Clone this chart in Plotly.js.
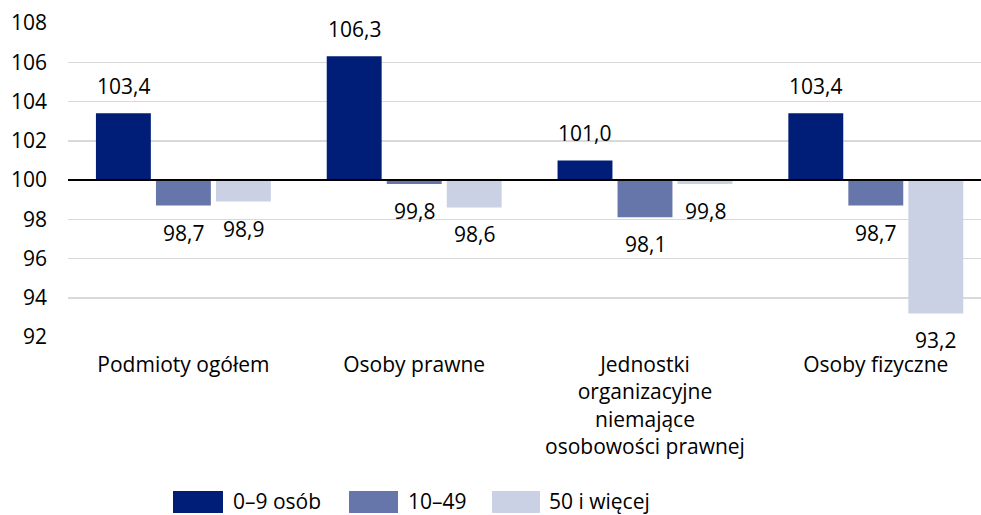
<!DOCTYPE html>
<html><head><meta charset="utf-8">
<script src="https://cdn.plot.ly/plotly-3.0.1.min.js"></script>
<style>html,body{margin:0;padding:0;background:#fff}</style>
</head><body><div id="chart" style="width:981px;height:515px"></div>
<script>
const categories = ['Podmioty ogółem', 'Osoby prawne', 'Jednostki<br>organizacyjne<br>niemające<br>osobowości prawnej', 'Osoby fizyczne'];
const seriesNames = ['0–9 osób', '10–49', '50 i więcej'];
const values0_9 = [103.4, 106.3, 101.0, 103.4];
const values10_49 = [98.7, 99.8, 98.1, 98.7];
const values50plus = [98.9, 98.6, 99.8, 93.2];
const yTickVals = [92, 94, 96, 98, 100, 102, 104, 106, 108];
const BASE = 100;

const colors = ['#001e78', '#6675aa', '#cbd1e5'];
const allSeries = [values0_9, values10_49, values50plus];
const FONT = '"Open Sans", "Noto Sans", sans-serif';
const FS = 21;

const W = 981, H = 515, ML = 68, MR = 0, MT = 23, MB = 178;
const plotW = W - ML - MR, plotH = H - MT - MB;
const BARGAP = 0.22, BARGROUPGAP = 0.085;
const slot = (1 - BARGAP) / allSeries.length;

const fmt = v => v.toFixed(1).replace('.', ',');

const traces = allSeries.map((vals, j) => ({
  type: 'bar',
  name: seriesNames[j],
  x: categories,
  y: vals.map(v => v - BASE),
  base: BASE,
  marker: {color: colors[j], line: {width: 0}},
  hoverinfo: 'skip',
  showlegend: false
}));

const annotations = [];
allSeries.forEach((vals, j) => {
  vals.forEach((v, i) => {
    annotations.push({
      xref: 'x', yref: 'y',
      x: i + (j - (allSeries.length - 1) / 2) * slot,
      y: v,
      text: fmt(v),
      showarrow: false,
      xanchor: 'center', yanchor: 'middle',
      yshift: v >= BASE ? 27 : -27,
      borderpad: 0,
      font: {family: FONT, size: FS, color: '#000'}
    });
  });
});

// custom legend (pixel layout converted to paper coords)
const pxX = x => (x - ML) / plotW;
const pxY = y => (H - MB - y) / plotH;
const legendItems = [
  {sx0: 173, sx1: 223, tx: 232},
  {sx0: 349, sx1: 398, tx: 407},
  {sx0: 492, sx1: 540, tx: 548}
];
const shapes = [{
  type: 'line', xref: 'paper', yref: 'y', x0: 0, x1: 1, y0: BASE, y1: BASE,
  line: {color: '#000', width: 2}, layer: 'above'
}];
legendItems.forEach((it, j) => {
  shapes.push({
    type: 'rect', xref: 'paper', yref: 'paper',
    x0: pxX(it.sx0), x1: pxX(it.sx1), y0: pxY(513), y1: pxY(491),
    fillcolor: colors[j], line: {width: 0}
  });
  annotations.push({
    xref: 'paper', yref: 'paper', x: pxX(it.tx), y: pxY(501),
    xanchor: 'left', yanchor: 'middle', showarrow: false, borderpad: 0,
    text: seriesNames[j], font: {family: FONT, size: FS, color: '#000'}
  });
});

const layout = {
  width: W, height: H,
  margin: {l: ML, r: MR, t: MT, b: MB, pad: 0},
  paper_bgcolor: '#fff', plot_bgcolor: '#fff',
  font: {family: FONT, size: FS, color: '#000'},
  barmode: 'group',
  bargap: BARGAP, bargroupgap: BARGROUPGAP,
  showlegend: false,
  xaxis: {
    type: 'category', range: [-0.5, -0.5 + plotW / 230.8],
    showgrid: false, zeroline: false, showline: false, ticks: '',
    tickfont: {family: FONT, size: FS, color: '#000'},
    ticklabelstandoff: 13, fixedrange: true
  },
  yaxis: {
    range: [92, 108], tickvals: yTickVals, ticktext: yTickVals.map(String),
    showgrid: true, gridcolor: '#d9d9d9', gridwidth: 1.5,
    zeroline: false, showline: false, ticks: '',
    tickfont: {family: FONT, size: FS, color: '#000'},
    ticklabelstandoff: 20, fixedrange: true
  },
  shapes: shapes,
  annotations: annotations
};

Plotly.newPlot('chart', traces, layout, {displayModeBar: false, staticPlot: true});
</script></body></html>
